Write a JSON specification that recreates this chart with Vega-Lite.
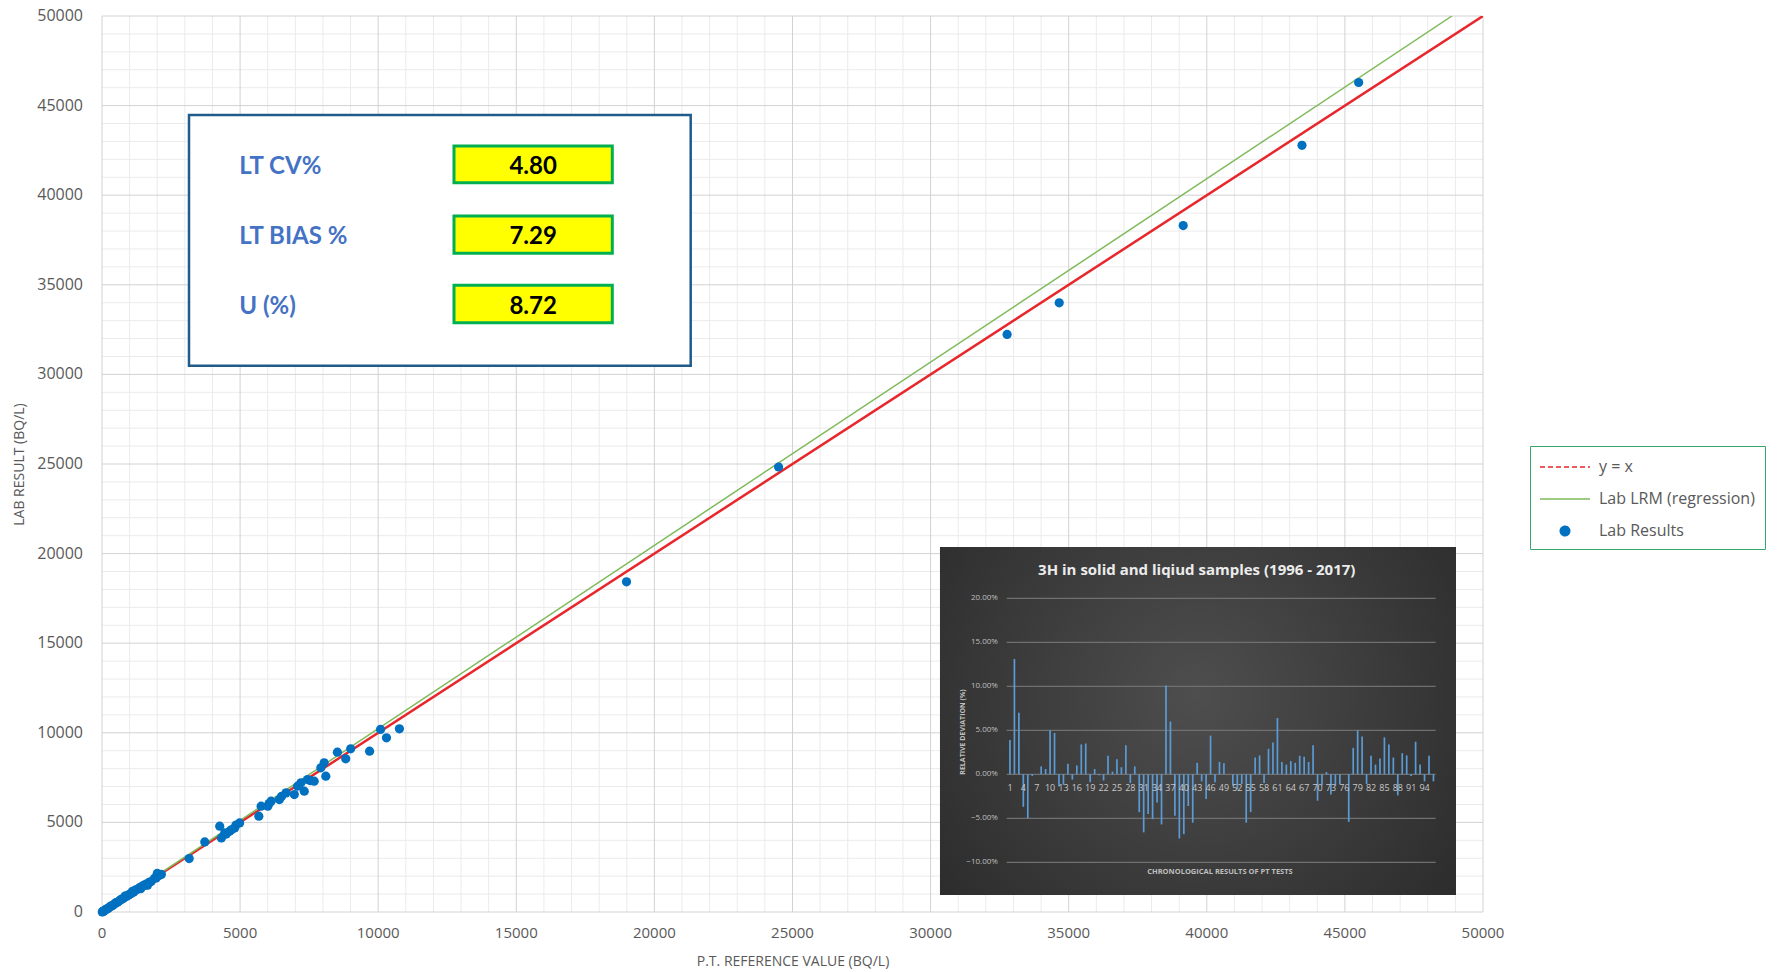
{
  "$schema": "https://vega.github.io/schema/vega-lite/v6.json",
  "autosize": {"type": "none"},
  "padding": {"left": 102, "top": 16, "right": 298, "bottom": 60},
  "width": 1381,
  "height": 896,
  "background": "white",
  "config": {"view": {"stroke": null}, "font": "Open Sans"},
  "resolve": {"scale": {"x": "independent", "y": "independent"}},
  "layer": [
    {
      "layer": [
        {
          "data": {"values": [{"g": 1000}, {"g": 2000}, {"g": 3000}, {"g": 4000}, {"g": 6000}, {"g": 7000}, {"g": 8000}, {"g": 9000}, {"g": 11000}, {"g": 12000}, {"g": 13000}, {"g": 14000}, {"g": 16000}, {"g": 17000}, {"g": 18000}, {"g": 19000}, {"g": 21000}, {"g": 22000}, {"g": 23000}, {"g": 24000}, {"g": 26000}, {"g": 27000}, {"g": 28000}, {"g": 29000}, {"g": 31000}, {"g": 32000}, {"g": 33000}, {"g": 34000}, {"g": 36000}, {"g": 37000}, {"g": 38000}, {"g": 39000}, {"g": 41000}, {"g": 42000}, {"g": 43000}, {"g": 44000}, {"g": 46000}, {"g": 47000}, {"g": 48000}, {"g": 49000}]},
          "layer": [
            {"mark": {"type": "rule", "stroke": "#ebebeb", "strokeWidth": 1},
             "encoding": {"x": {"field": "g", "type": "quantitative"}}},
            {"mark": {"type": "rule", "stroke": "#ebebeb", "strokeWidth": 1},
             "encoding": {"y": {"field": "g", "type": "quantitative"}}}
          ]
        },
        {
          "data": {"values": [{"g": 0}, {"g": 5000}, {"g": 10000}, {"g": 15000}, {"g": 20000}, {"g": 25000}, {"g": 30000}, {"g": 35000}, {"g": 40000}, {"g": 45000}, {"g": 50000}]},
          "layer": [
            {"mark": {"type": "rule", "stroke": "#d2d2d2", "strokeWidth": 1},
             "encoding": {"x": {"field": "g", "type": "quantitative"}}},
            {"mark": {"type": "rule", "stroke": "#d2d2d2", "strokeWidth": 1},
             "encoding": {"y": {"field": "g", "type": "quantitative"}}},
            {"mark": {"type": "text", "align": "center", "baseline": "top", "dy": 14, "font": "Liberation Sans Narrow, Open Sans", "fontSize": 15, "color": "#595959"},
             "encoding": {"x": {"field": "g", "type": "quantitative"}, "y": {"datum": 0, "type": "quantitative"}, "text": {"field": "g", "type": "quantitative", "format": "d"}}},
            {"mark": {"type": "text", "align": "right", "baseline": "middle", "dx": -19, "font": "Open Sans", "fontSize": 16, "color": "#595959"},
             "encoding": {"y": {"field": "g", "type": "quantitative"}, "x": {"datum": 0, "type": "quantitative"}, "text": {"field": "g", "type": "quantitative", "format": "d"}}}
          ]
        },
        {
          "data": {"values": [{"x": 0, "y": 0}, {"x": 50000, "y": 50000}]},
          "mark": {"type": "line", "strokeWidth": 2.5, "clip": true},
          "encoding": {
            "x": {"field": "x", "type": "quantitative",
              "scale": {"domain": [0, 50000], "nice": false, "zero": false},
              "axis": {
                "grid": false, "labels": false, "ticks": false, "domain": false,
                "title": "P.T. REFERENCE VALUE (BQ/L)", "titleFont": "Open Sans", "titleFontSize": 14, "titleFontWeight": "normal", "titleColor": "#595959", "titlePadding": 42
              }},
            "y": {"field": "y", "type": "quantitative",
              "scale": {"domain": [0, 50000], "nice": false, "zero": false},
              "axis": {
                "grid": false, "labels": false, "ticks": false, "domain": false,
                "title": "LAB RESULT (BQ/L)", "titleFont": "Open Sans", "titleFontSize": 14, "titleFontWeight": "normal", "titleColor": "#595959", "titlePadding": 76
              }},
            "color": {"datum": "y = x", "type": "nominal",
              "scale": {"domain": ["y = x", "Lab LRM (regression)", "Lab Results"], "range": ["#e8262b", "#7fba5a", "#0070c0"]},
              "legend": {
                "title": null, "orient": "none", "legendX": 1428, "legendY": 430,
                "strokeColor": "#3aa66a", "fillColor": "#ffffff", "padding": 10,
                "labelFont": "Open Sans", "labelFontSize": 16, "labelColor": "#595959", "labelOffset": 37,
                "symbolType": "stroke", "symbolSize": 400, "symbolStrokeWidth": 1.5, "rowPadding": 13,
                "encode": {"symbols": {"update": {
                  "x": {"value": 25},
                  "shape": {"signal": "datum.value === 'Lab Results' ? 'circle' : 'M-2.5,0H2.5'"},
                  "size": {"signal": "datum.value === 'Lab Results' ? 90 : 400"},
                  "strokeDash": {"signal": "datum.value === 'y = x' ? [5, 3] : [1, 0]"},
                  "fill": {"signal": "datum.value === 'Lab Results' ? '#0070c0' : 'transparent'"},
                  "stroke": {"signal": "datum.value === 'Lab Results' ? 'transparent' : (datum.value === 'y = x' ? '#e8262b' : '#7fba5a')"},
                  "strokeWidth": {"value": 1.5},
                  "opacity": {"value": 1}
                }}}
              }}
          }
        },
        {
          "data": {"values": [{"x": 0, "y": 0}, {"x": 48877, "y": 50000}]},
          "mark": {"type": "line", "strokeWidth": 1.5, "clip": true},
          "encoding": {
            "x": {"field": "x", "type": "quantitative"},
            "y": {"field": "y", "type": "quantitative"},
            "color": {"datum": "Lab LRM (regression)", "type": "nominal"}
          }
        },
        {
          "data": {"values": [
            {"x": 18990, "y": 18426}, {"x": 24497, "y": 24833}, {"x": 32770, "y": 32232}, {"x": 34656, "y": 33996}, {"x": 39145, "y": 38303}, {"x": 43446, "y": 42784}, {"x": 45498, "y": 46289},
            {"x": 10768, "y": 10223}, {"x": 10084, "y": 10186}, {"x": 10300, "y": 9721}, {"x": 9688, "y": 8976}, {"x": 9004, "y": 9106}, {"x": 8824, "y": 8547}, {"x": 8523, "y": 8920}, {"x": 8103, "y": 7579}, {"x": 8043, "y": 8324}, {"x": 7923, "y": 8045}, {"x": 7683, "y": 7300}, {"x": 7443, "y": 7393}, {"x": 7550, "y": 7330}, {"x": 7323, "y": 6741}, {"x": 7203, "y": 7207}, {"x": 7083, "y": 7020}, {"x": 6963, "y": 6555}, {"x": 6663, "y": 6648}, {"x": 6500, "y": 6450}, {"x": 6423, "y": 6276}, {"x": 6122, "y": 6182}, {"x": 6002, "y": 5903}, {"x": 6050, "y": 6050}, {"x": 5762, "y": 5903}, {"x": 5678, "y": 5345}, {"x": 4982, "y": 4972}, {"x": 4850, "y": 4850}, {"x": 4802, "y": 4693}, {"x": 4622, "y": 4507}, {"x": 4700, "y": 4600}, {"x": 4442, "y": 4413}, {"x": 4262, "y": 4786}, {"x": 4322, "y": 4134}, {"x": 4500, "y": 4350}, {"x": 3721, "y": 3911}, {"x": 3157, "y": 2980},
            {"x": 2150, "y": 2100}, {"x": 2050, "y": 2030}, {"x": 1960, "y": 1900}, {"x": 1900, "y": 1880}, {"x": 1780, "y": 1700}, {"x": 1700, "y": 1650}, {"x": 1600, "y": 1560}, {"x": 1560, "y": 1500}, {"x": 1500, "y": 1480}, {"x": 1450, "y": 1420}, {"x": 1380, "y": 1380}, {"x": 1320, "y": 1300}, {"x": 1250, "y": 1240}, {"x": 1200, "y": 1220}, {"x": 1150, "y": 1120}, {"x": 1080, "y": 1060}, {"x": 1020, "y": 1000}, {"x": 960, "y": 950}, {"x": 900, "y": 880}, {"x": 850, "y": 860}, {"x": 800, "y": 790}, {"x": 750, "y": 740}, {"x": 700, "y": 700}, {"x": 650, "y": 660}, {"x": 600, "y": 580}, {"x": 560, "y": 540}, {"x": 500, "y": 520}, {"x": 450, "y": 440}, {"x": 400, "y": 390}, {"x": 350, "y": 340}, {"x": 300, "y": 320}, {"x": 260, "y": 250}, {"x": 220, "y": 200}, {"x": 180, "y": 170}, {"x": 140, "y": 150}, {"x": 110, "y": 100}, {"x": 80, "y": 70}, {"x": 60, "y": 50}, {"x": 40, "y": 30}, {"x": 20, "y": 15}, {"x": 10, "y": 5}, {"x": 1650, "y": 1500}, {"x": 1400, "y": 1300}, {"x": 1100, "y": 1150}, {"x": 850, "y": 900}, {"x": 2000, "y": 2150}
          ]},
          "mark": {"type": "circle", "size": 85, "opacity": 1},
          "encoding": {
            "x": {"field": "x", "type": "quantitative"},
            "y": {"field": "y", "type": "quantitative"},
            "color": {"datum": "Lab Results", "type": "nominal"}
          }
        },
        {
          "data": {"values": [{}]},
          "mark": {"type": "rect", "fill": "#ffffff", "stroke": "#1f5c8c", "strokeWidth": 2.5},
          "encoding": {
            "x": {"datum": 3150, "type": "quantitative"},
            "x2": {"datum": 21314},
            "y": {"datum": 44476, "type": "quantitative"},
            "y2": {"datum": 30485}
          }
        },
        {
          "data": {"values": [{"label": "LT CV%", "value": "4.80"}]},
          "layer": [
            {"mark": {"type": "rect", "fill": "#ffff00", "stroke": "#00b050", "strokeWidth": 3},
             "encoding": {"x": {"datum": 12744, "type": "quantitative"}, "x2": {"datum": 18476}, "y": {"datum": 42746, "type": "quantitative"}, "y2": {"datum": 40698}}},
            {"mark": {"type": "text", "align": "left", "baseline": "middle", "font": "Lato", "fontWeight": "bold", "fontSize": 24, "color": "#4472c4"},
             "encoding": {"x": {"datum": 4971, "type": "quantitative"}, "y": {"datum": 41560, "type": "quantitative"}, "text": {"field": "label"}}},
            {"mark": {"type": "text", "align": "center", "baseline": "middle", "font": "Lato", "fontWeight": "bold", "fontSize": 24, "color": "#000000"},
             "encoding": {"x": {"datum": 15610, "type": "quantitative"}, "y": {"datum": 41560, "type": "quantitative"}, "text": {"field": "value"}}}
          ]
        },
        {
          "data": {"values": [{"label": "LT BIAS %", "value": "7.29"}]},
          "layer": [
            {"mark": {"type": "rect", "fill": "#ffff00", "stroke": "#00b050", "strokeWidth": 3},
             "encoding": {"x": {"datum": 12744, "type": "quantitative"}, "x2": {"datum": 18476}, "y": {"datum": 38839, "type": "quantitative"}, "y2": {"datum": 36758}}},
            {"mark": {"type": "text", "align": "left", "baseline": "middle", "font": "Lato", "fontWeight": "bold", "fontSize": 24, "color": "#4472c4"},
             "encoding": {"x": {"datum": 4971, "type": "quantitative"}, "y": {"datum": 37650, "type": "quantitative"}, "text": {"field": "label"}}},
            {"mark": {"type": "text", "align": "center", "baseline": "middle", "font": "Lato", "fontWeight": "bold", "fontSize": 24, "color": "#000000"},
             "encoding": {"x": {"datum": 15610, "type": "quantitative"}, "y": {"datum": 37650, "type": "quantitative"}, "text": {"field": "value"}}}
          ]
        },
        {
          "data": {"values": [{"label": "U (%)", "value": "8.72"}]},
          "layer": [
            {"mark": {"type": "rect", "fill": "#ffff00", "stroke": "#00b050", "strokeWidth": 3},
             "encoding": {"x": {"datum": 12744, "type": "quantitative"}, "x2": {"datum": 18476}, "y": {"datum": 34972, "type": "quantitative"}, "y2": {"datum": 32885}}},
            {"mark": {"type": "text", "align": "left", "baseline": "middle", "font": "Lato", "fontWeight": "bold", "fontSize": 24, "color": "#4472c4"},
             "encoding": {"x": {"datum": 4971, "type": "quantitative"}, "y": {"datum": 33780, "type": "quantitative"}, "text": {"field": "label"}}},
            {"mark": {"type": "text", "align": "center", "baseline": "middle", "font": "Lato", "fontWeight": "bold", "fontSize": 24, "color": "#000000"},
             "encoding": {"x": {"datum": 15610, "type": "quantitative"}, "y": {"datum": 33780, "type": "quantitative"}, "text": {"field": "value"}}}
          ]
        }
      ]
    },
    {
      "layer": [
        {
          "data": {"values": [{}]},
          "mark": {"type": "rect", "fill": {"gradient": "radial", "x1": 0.5, "y1": 0.45, "r1": 0, "x2": 0.5, "y2": 0.45, "r2": 0.75, "stops": [{"offset": 0, "color": "#4e4e4e"}, {"offset": 1, "color": "#262626"}]}},
          "encoding": {
            "x": {"datum": -14.7, "type": "quantitative", "scale": {"domain": [0, 97], "range": [903.5, 1335.9], "nice": false, "zero": false, "padding": 0}, "axis": null},
            "x2": {"datum": 101.06},
            "y": {"datum": 0.2583, "type": "quantitative", "scale": {"domain": [-0.1, 0.2], "range": [846.3, 582.3], "nice": false, "zero": false, "padding": 0}, "axis": null},
            "y2": {"datum": -0.1372}
          }
        },
        {
          "data": {"values": [{"v": 0.2}, {"v": 0.15}, {"v": 0.1}, {"v": 0.05}, {"v": 0}, {"v": -0.05}, {"v": -0.1}]},
          "layer": [
            {"mark": {"type": "rule", "stroke": "#707070", "strokeWidth": 1.2},
             "encoding": {"x": {"datum": 0.26, "type": "quantitative", "axis": null}, "x2": {"datum": 96.5}, "y": {"field": "v", "type": "quantitative", "axis": null}}},
            {"mark": {"type": "text", "align": "right", "baseline": "middle", "fontSize": 8, "color": "#bfbfbf", "font": "Open Sans"},
             "encoding": {"x": {"datum": -1.7, "type": "quantitative", "axis": null}, "y": {"field": "v", "type": "quantitative", "axis": null}, "text": {"field": "v", "format": ".2%"}}}
          ]
        },
        {
          "data": {"values": [
            {"i": 1, "d": 0.039}, {"i": 2, "d": 0.131}, {"i": 3, "d": 0.070}, {"i": 4, "d": -0.037}, {"i": 5, "d": -0.050}, {"i": 6, "d": -0.002}, {"i": 7, "d": 0}, {"i": 8, "d": 0.009}, {"i": 9, "d": 0.006}, {"i": 10, "d": 0.050},
            {"i": 11, "d": 0.047}, {"i": 12, "d": -0.014}, {"i": 13, "d": -0.012}, {"i": 14, "d": 0.012}, {"i": 15, "d": -0.006}, {"i": 16, "d": 0.010}, {"i": 17, "d": 0.034}, {"i": 18, "d": 0.035}, {"i": 19, "d": -0.009}, {"i": 20, "d": 0.006},
            {"i": 21, "d": -0.001}, {"i": 22, "d": -0.007}, {"i": 23, "d": 0.021}, {"i": 24, "d": 0.003}, {"i": 25, "d": 0.017}, {"i": 26, "d": 0.008}, {"i": 27, "d": 0.033}, {"i": 28, "d": -0.010}, {"i": 29, "d": 0.009}, {"i": 30, "d": -0.043},
            {"i": 31, "d": -0.066}, {"i": 32, "d": -0.045}, {"i": 33, "d": -0.051}, {"i": 34, "d": -0.032}, {"i": 35, "d": -0.057}, {"i": 36, "d": 0.101}, {"i": 37, "d": 0.060}, {"i": 38, "d": -0.047}, {"i": 39, "d": -0.073}, {"i": 40, "d": -0.068},
            {"i": 41, "d": -0.036}, {"i": 42, "d": -0.055}, {"i": 43, "d": 0.013}, {"i": 44, "d": -0.008}, {"i": 45, "d": -0.028}, {"i": 46, "d": 0.044}, {"i": 47, "d": -0.009}, {"i": 48, "d": 0.014}, {"i": 49, "d": 0.0125}, {"i": 50, "d": 0},
            {"i": 51, "d": -0.013}, {"i": 52, "d": -0.017}, {"i": 53, "d": -0.011}, {"i": 54, "d": -0.055}, {"i": 55, "d": -0.043}, {"i": 56, "d": 0.019}, {"i": 57, "d": 0.0215}, {"i": 58, "d": -0.010}, {"i": 59, "d": 0.029}, {"i": 60, "d": 0.036},
            {"i": 61, "d": 0.064}, {"i": 62, "d": 0.014}, {"i": 63, "d": 0.011}, {"i": 64, "d": 0.015}, {"i": 65, "d": 0.013}, {"i": 66, "d": 0.021}, {"i": 67, "d": 0.020}, {"i": 68, "d": 0.014}, {"i": 69, "d": 0.033}, {"i": 70, "d": -0.030},
            {"i": 71, "d": -0.0125}, {"i": 72, "d": 0.0025}, {"i": 73, "d": -0.023}, {"i": 74, "d": -0.013}, {"i": 75, "d": -0.011}, {"i": 76, "d": 0}, {"i": 77, "d": -0.054}, {"i": 78, "d": 0.030}, {"i": 79, "d": 0.050}, {"i": 80, "d": 0.043},
            {"i": 81, "d": -0.011}, {"i": 82, "d": 0.021}, {"i": 83, "d": 0.011}, {"i": 84, "d": 0.018}, {"i": 85, "d": 0.042}, {"i": 86, "d": 0.034}, {"i": 87, "d": 0.019}, {"i": 88, "d": -0.024}, {"i": 89, "d": 0.024}, {"i": 90, "d": 0.0215},
            {"i": 91, "d": -0.002}, {"i": 92, "d": 0.037}, {"i": 93, "d": 0.011}, {"i": 94, "d": -0.008}, {"i": 95, "d": 0.021}, {"i": 96, "d": -0.008}
          ]},
          "layer": [
            {"mark": {"type": "bar", "width": 1.7, "color": "#5b9bd5"},
             "encoding": {"x": {"field": "i", "type": "quantitative", "axis": null}, "y": {"field": "d", "type": "quantitative", "axis": null}, "y2": {"datum": 0}}},
            {"transform": [{"filter": "datum.i % 3 === 1"}],
             "mark": {"type": "text", "align": "center", "baseline": "middle", "fontSize": 9, "color": "#c8c8c8", "font": "Open Sans"},
             "encoding": {"x": {"field": "i", "type": "quantitative", "axis": null}, "y": {"datum": -0.016, "type": "quantitative", "axis": null}, "text": {"field": "i", "type": "quantitative", "format": "d"}}}
          ]
        },
        {
          "data": {"values": [{"t": "3H in solid and liqiud samples (1996 - 2017)"}]},
          "mark": {"type": "text", "align": "center", "baseline": "middle", "fontSize": 15, "fontWeight": "bold", "color": "#ececec", "font": "Open Sans"},
          "encoding": {"x": {"datum": 42.9, "type": "quantitative", "axis": null}, "y": {"datum": 0.2322, "type": "quantitative", "axis": null}, "text": {"field": "t"}}
        },
        {
          "data": {"values": [{"t": "RELATIVE DEVIATION (%)"}]},
          "mark": {"type": "text", "align": "center", "baseline": "middle", "fontSize": 7, "fontWeight": "bold", "color": "#bfbfbf", "font": "Open Sans", "angle": 270},
          "encoding": {"x": {"datum": -9.5, "type": "quantitative", "axis": null}, "y": {"datum": 0.048, "type": "quantitative", "axis": null}, "text": {"field": "t"}}
        },
        {
          "data": {"values": [{"t": "CHRONOLOGICAL RESULTS OF PT TESTS"}]},
          "mark": {"type": "text", "align": "center", "baseline": "middle", "fontSize": 7.5, "fontWeight": "bold", "color": "#bfbfbf", "font": "Open Sans"},
          "encoding": {"x": {"datum": 48.1, "type": "quantitative", "axis": null}, "y": {"datum": -0.1107, "type": "quantitative", "axis": null}, "text": {"field": "t"}}
        }
      ]
    }
  ]
}
